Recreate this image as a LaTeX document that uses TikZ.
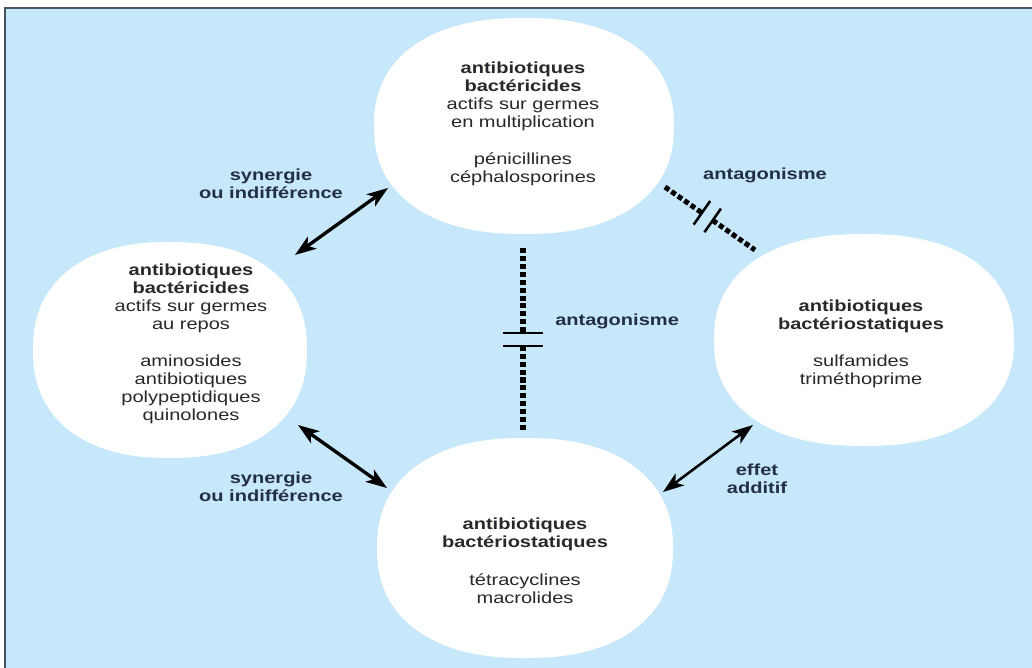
\documentclass[tikz,border=0pt]{standalone}
\usepackage{fontspec}
\setmainfont{Liberation Sans}[FakeStretch=1.25]
\usepackage{xcolor}
\usetikzlibrary{arrows.meta, calc, positioning, shapes.geometric}
\definecolor{fond}{RGB}{198,232,250}
\definecolor{cadre}{RGB}{70,82,95}
\definecolor{encre}{RGB}{40,40,45}
\definecolor{marine}{RGB}{36,46,68}
\tikzset{
    bulle/.style={ellipse, draw=none, inner sep=0pt}, % place des bulles
    texte/.style={align=center, text=encre, inner sep=0pt, font=\fontsize{11.4}{12.8}\selectfont}, % texte des bulles
    etiquette/.style={align=center, text=marine, inner sep=0pt, font=\fontsize{11.4}{12.8}\selectfont\bfseries}, % texte des liaisons
    lien/.style={line width=2.4pt, {Stealth[length=15pt,width=10.5pt,inset=4pt]}-{Stealth[length=15pt,width=10.5pt,inset=4pt]}},
    antago/.style={line width=3.6pt, dash pattern=on 3.6pt off 2pt},
    plaque/.style={line width=1.8pt},
}
% fond blanc d'une bulle : centre, demi-largeur, demi-hauteur
\newcommand{\fondbulle}[3]{%
    \fill[white, shift={(#1)}] plot[domain=0.5:360.5, samples=145, variable=\t]
        ({#2*sign(cos(\t))*pow(abs(cos(\t)),0.87)}, {#3*sign(sin(\t))*pow(abs(sin(\t)),0.87)}) -- cycle;}

\begin{document}
\begin{tikzpicture}[x=0.025cm, y=-0.025cm]
    \useasboundingbox (0,0) rectangle (1032,668);
    % Cadre
    \fill[fond] (5,8) rectangle (1032,668);
    \draw[cadre, line width=1.4pt] (5,668) -- (5,8) -- (1032,8);

    % Bulles
    \node[bulle, minimum width=7.5cm, minimum height=5.4cm] (haut) at (524,126) {};
    \node[bulle, minimum width=6.85cm, minimum height=5.4cm] (gauche) at (170,350) {};
    \node[bulle, minimum width=7.5cm, minimum height=5.3cm] (droite) at (864,340) {};
    \node[bulle, minimum width=7.4cm, minimum height=5.5cm] (bas) at (525,548) {};
    \fondbulle{haut}{150}{108}
    \fondbulle{gauche}{137}{108}
    \fondbulle{droite}{150}{106}
    \fondbulle{bas}{148}{110}

    % Textes
    \node[texte] (hautT) at (523,124) {\textbf{antibiotiques}\\ \textbf{bactéricides}\\ actifs sur germes\\ en multiplication\\[14pt] pénicillines\\ céphalosporines};
    \node[texte] (gaucheT) at (191,344) {\textbf{antibiotiques}\\ \textbf{bactéricides}\\ actifs sur germes\\ au repos\\[14pt] aminosides\\ antibiotiques\\ polypeptidiques\\ quinolones};
    \node[texte] (droiteT) at (861,344) {\textbf{antibiotiques}\\ \textbf{bactériostatiques}\\[14pt] sulfamides\\ triméthoprime};
    \node[texte] (basT) at (525,561) {\textbf{antibiotiques}\\ \textbf{bactériostatiques}\\[14pt] tétracyclines\\ macrolides};

    % Liaisons
    \coordinate (s1a) at (295,255);
    \coordinate (s1b) at (388,188);
    \coordinate (s2a) at (298,425);
    \coordinate (s2b) at (387,488);
    \coordinate (ea) at (663,492);
    \coordinate (eb) at (753,425);
    \draw[lien] (s1a) -- (s1b);
    \draw[lien] (s2a) -- (s2b);
    \draw[lien, line width=1.8pt] (ea) -- (eb);

    % Antagonismes
    \coordinate (v1) at (523,333);
    \coordinate (v2) at (523,346);
    \draw[antago, shorten <=0.35cm] (v1 |- haut.south) -- (v1);
    \draw[antago, shorten >=0.15cm] (v2) -- (v2 |- bas.north);
    \draw[plaque] ($(v1)+(-20,0)$) -- ($(v1)+(20,0)$);
    \draw[plaque] ($(v2)+(-20,0)$) -- ($(v2)+(20,0)$);

    \coordinate (dA) at (665,187);
    \coordinate (dB) at (755,250);
    \coordinate (d1) at ($(dA)!0.41!(dB)$);
    \coordinate (d2) at ($(dA)!0.53!(dB)$);
    \draw[antago] (dA) -- (d1);
    \draw[antago] (d2) -- (dB);
    \draw[plaque] ($(d1)!0.36cm!90:(dB)$) -- ($(d1)!0.36cm!-90:(dB)$);
    \draw[plaque] ($(d2)!0.36cm!90:(dB)$) -- ($(d2)!0.36cm!-90:(dB)$);

    % Etiquettes
    \node[etiquette] (syn1) at (271,184) {synergie\\ ou indifférence};
    \node[etiquette] (syn2) at (271,487) {synergie\\ ou indifférence};
    \node[etiquette] (add) at (757,479) {effet\\ additif};
    \node[etiquette, right=0.8cm of v1, anchor=west, yshift=0.3cm] (ant1) {antagonisme};
    \node[etiquette] (ant2) at (765,175) {antagonisme};
\end{tikzpicture}
\end{document}
